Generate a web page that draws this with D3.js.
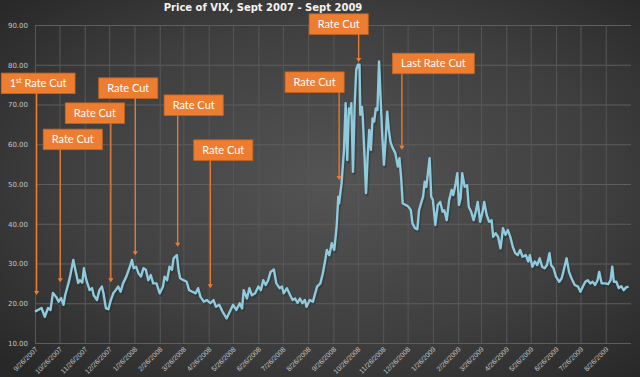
<!DOCTYPE html>
<html><head><meta charset="utf-8">
<script src="https://cdn.jsdelivr.net/npm/d3@7/dist/d3.min.js"></script>
<style>html,body{margin:0;padding:0;background:#2b2b2b;} svg{display:block}</style>
</head><body>
<svg id="chart" width="640" height="377"></svg>
<script>
const chartTitle = "Price of VIX, Sept 2007 - Sept 2009";

const dates = [
"2007-09-26","2007-10-04","2007-10-08","2007-10-12","2007-10-15","2007-10-18","2007-10-22","2007-10-25","2007-10-28","2007-10-31",
"2007-11-02","2007-11-06","2007-11-08","2007-11-12","2007-11-15","2007-11-18","2007-11-20","2007-11-23","2007-11-25","2007-11-28",
"2007-12-02","2007-12-05","2007-12-07","2007-12-11","2007-12-14","2007-12-17","2007-12-19","2007-12-22","2007-12-25","2007-12-28",
"2007-12-31","2008-01-03","2008-01-06","2008-01-09","2008-01-12","2008-01-16","2008-01-21","2008-01-23","2008-01-25","2008-01-28",
"2008-01-31","2008-02-03","2008-02-06","2008-02-09","2008-02-12","2008-02-15","2008-02-18","2008-02-22","2008-02-26","2008-03-01",
"2008-03-03","2008-03-06","2008-03-09","2008-03-12","2008-03-14","2008-03-18","2008-03-20","2008-03-22","2008-03-26","2008-03-30",
"2008-04-02","2008-04-06","2008-04-10","2008-04-13","2008-04-16","2008-04-20","2008-04-24","2008-04-28","2008-05-02","2008-05-05",
"2008-05-09","2008-05-13","2008-05-18","2008-05-22","2008-05-26","2008-05-30","2008-06-03","2008-06-06","2008-06-08","2008-06-12",
"2008-06-15","2008-06-18","2008-06-22","2008-06-26","2008-06-29","2008-07-02","2008-07-05","2008-07-08","2008-07-11","2008-07-15",
"2008-07-18","2008-07-22","2008-07-25","2008-07-27","2008-07-31","2008-08-04","2008-08-07","2008-08-10","2008-08-13","2008-08-16",
"2008-08-19","2008-08-22","2008-08-24","2008-08-28","2008-09-01","2008-09-03","2008-09-06","2008-09-10","2008-09-13","2008-09-16",
"2008-09-18","2008-09-21","2008-09-24","2008-09-27","2008-09-30","2008-10-02","2008-10-03","2008-10-06","2008-10-09","2008-10-11",
"2008-10-13","2008-10-15","2008-10-17","2008-10-18","2008-10-20","2008-10-22","2008-10-24","2008-10-26","2008-10-28","2008-10-29",
"2008-10-31","2008-11-01","2008-11-03","2008-11-05","2008-11-07","2008-11-09","2008-11-11","2008-11-13","2008-11-15","2008-11-17",
"2008-11-19","2008-11-21","2008-11-23","2008-11-25","2008-11-27","2008-11-29","2008-12-01","2008-12-03","2008-12-05","2008-12-07",
"2008-12-11","2008-12-14","2008-12-16","2008-12-18","2008-12-20","2008-12-24","2008-12-27","2008-12-30","2009-01-01","2009-01-04",
"2009-01-07","2009-01-09","2009-01-12","2009-01-14","2009-01-16","2009-01-18","2009-01-22","2009-01-24","2009-01-26","2009-01-29",
"2009-02-01","2009-02-04","2009-02-07","2009-02-09","2009-02-12","2009-02-15","2009-02-18","2009-02-20","2009-02-23","2009-02-25",
"2009-02-27","2009-03-01","2009-03-03","2009-03-06","2009-03-09","2009-03-11","2009-03-14","2009-03-17","2009-03-20","2009-03-22",
"2009-03-25","2009-03-28","2009-03-30","2009-04-02","2009-04-05","2009-04-08","2009-04-10","2009-04-13","2009-04-16","2009-04-19",
"2009-04-22","2009-04-25","2009-04-28","2009-05-01","2009-05-04","2009-05-07","2009-05-10","2009-05-13","2009-05-16","2009-05-20",
"2009-05-23","2009-05-25","2009-05-28","2009-05-31","2009-06-03","2009-06-06","2009-06-09","2009-06-12","2009-06-15","2009-06-18",
"2009-06-20","2009-06-23","2009-06-26","2009-06-30","2009-07-03","2009-07-05","2009-07-09","2009-07-12","2009-07-15","2009-07-19",
"2009-07-23","2009-07-26","2009-07-29","2009-08-01","2009-08-04","2009-08-07","2009-08-10","2009-08-13","2009-08-16","2009-08-18",
"2009-08-21","2009-08-25","2009-08-29","2009-09-01","2009-09-03","2009-09-05","2009-09-08","2009-09-11","2009-09-14","2009-09-17",
"2009-09-20","2009-09-23"
];

const vixValues = [
17.9,18.8,16.6,18.8,18.3,22.6,21.6,20.4,21.3,19.6,
22.0,25.0,26.7,30.9,27.9,25.1,25.8,25.2,28.8,25.8,
23.3,23.8,22.0,20.8,23.3,24.2,22.5,18.7,18.5,20.8,
22.5,23.3,24.2,22.9,25.0,26.7,29.6,30.9,28.8,29.2,
27.5,26.7,28.8,28.4,25.8,27.1,25.0,25.0,22.5,24.2,
26.7,25.8,29.2,28.4,31.3,32.1,28.4,26.3,25.8,25.4,
23.3,22.9,22.5,23.8,21.6,20.4,20.8,20.0,20.8,19.1,
19.6,17.9,16.2,17.9,19.6,18.3,20.0,18.7,23.3,21.2,
23.8,22.0,22.5,24.2,23.3,25.8,24.6,25.8,27.9,28.5,
25.0,23.8,24.2,22.5,23.8,22.0,20.8,21.2,20.1,21.2,
20.0,20.8,19.1,20.8,20.4,22.0,24.2,25.0,27.5,30.9,
33.4,32.1,35.1,33.4,39.3,46.8,45.1,50.2,58.6,70.3,
56.0,69.0,67.8,70.3,53.1,69.4,78.7,80.0,80.0,67.4,
69.4,66.9,57.7,47.7,56.9,63.6,58.6,66.5,65.7,69.0,
68.6,80.8,71.1,61.9,54.8,61.1,68.2,63.6,60.6,59.4,
57.7,54.4,56.5,51.8,45.1,44.7,44.3,43.4,40.1,38.9,
38.6,43.4,45.5,46.8,50.6,49.3,56.5,46.8,46.0,39.7,
44.7,45.5,43.0,43.4,40.9,46.0,48.5,47.2,50.2,52.7,
44.7,46.4,52.7,49.3,49.7,44.3,43.0,40.9,43.4,45.5,
40.5,43.0,45.5,42.2,40.5,40.9,36.7,37.6,36.7,33.8,
38.9,37.2,38.4,36.7,34.2,32.6,32.1,33.4,31.7,32.1,
30.5,32.1,29.2,30.5,29.6,31.3,29.2,28.8,29.6,32.6,
29.6,28.8,26.7,25.4,26.3,27.9,31.3,27.9,26.3,24.6,
24.2,22.9,24.2,25.4,25.8,25.0,25.4,24.6,25.8,27.9,
25.0,25.0,24.8,25.8,29.2,25.4,25.4,23.8,24.3,23.3,
24.0,24.2
];

const yTickValues = [10,20,30,40,50,60,70,80,90];
const xTickDates = [
"2007-09-26","2007-10-26","2007-11-26","2007-12-26","2008-01-26","2008-02-26","2008-03-26","2008-04-26",
"2008-05-26","2008-06-26","2008-07-26","2008-08-26","2008-09-26","2008-10-26","2008-11-26","2008-12-26",
"2009-01-26","2009-02-26","2009-03-26","2009-04-26","2009-05-26","2009-06-26","2009-07-26","2009-08-26"
];

const annotationLabels = ["Rate Cut","Rate Cut","Rate Cut","Rate Cut","Rate Cut","Rate Cut","Rate Cut","Rate Cut","Last Rate Cut"];
const annotationDates = ["2007-09-28","2007-10-27","2007-12-28","2008-01-27","2008-03-19","2008-04-28","2008-10-03","2008-10-27","2008-12-19"];
const annotationTipValues = [22.1,25.3,25.3,32.1,34.2,23.8,51.0,80.7,58.6];
// callout layout: box top (in value units) and horizontal shift of box centre from the arrow (px)
const calloutTopValues = [77.9,63.8,70.4,76.7,72.4,61.1,78.2,92.8,82.9];
const calloutShift = [1.5,12.5,-16,-7,16,13,-24.5,-20,31.5];

const parse = d3.timeParse("%Y-%m-%d");
const series = dates.map((d,i)=>({date:parse(d), v:vixValues[i]}));

const svg = d3.select("#chart");
const W = 640, H = 377;
const L = 35, R = 631, T = 25, B = 343;

const defs = svg.append("defs");
const grad = defs.append("radialGradient").attr("id","bg").attr("cx","52%").attr("cy","48%").attr("r","70%");
grad.append("stop").attr("offset","0%").attr("stop-color","#545454");
grad.append("stop").attr("offset","60%").attr("stop-color","#3f3f3f");
grad.append("stop").attr("offset","100%").attr("stop-color","#282828");
svg.append("rect").attr("width",W).attr("height",H).attr("fill","url(#bg)");

const x = d3.scaleTime().domain([parse("2007-09-26"), parse("2009-09-26")]).range([L, R]);
const y = d3.scaleLinear().domain([10, 90]).range([B, T]);

// y axis with gridlines
const yAxis = svg.append("g").attr("transform",`translate(${L},0)`)
  .call(d3.axisLeft(y).tickValues(yTickValues).tickFormat(d3.format(".2f")).tickSize(-(R-L)).tickPadding(7));
yAxis.select(".domain").remove();
yAxis.selectAll(".tick line").attr("stroke","#5e5e5e").attr("stroke-width",1);
yAxis.selectAll("text").attr("fill","#c4c4c4").style("font-family","DejaVu Sans").style("font-size","7px");

// x axis with gridlines
const xAxis = svg.append("g").attr("transform",`translate(0,${B})`)
  .call(d3.axisBottom(x).tickValues(xTickDates.map(parse)).tickFormat(d3.timeFormat("%-m/%-d/%Y")).tickSize(-(B-T)).tickPadding(0));
xAxis.select(".domain").remove();
xAxis.selectAll(".tick line").attr("stroke","#575757").attr("stroke-width",1);
xAxis.selectAll("text")
  .attr("fill","#c4c4c4").style("font-family","Liberation Sans").style("font-size","7px")
  .attr("text-anchor","end").attr("x",0).attr("y",0).attr("dy","0.35em")
  .attr("transform","translate(1,5) rotate(-45)");

// title
svg.append("text").attr("x",263).attr("y",10.5).attr("text-anchor","middle")
  .attr("fill","#f2f2f2").style("font-family","DejaVu Sans").style("font-weight","bold").style("font-size","10px")
  .text(chartTitle);

// VIX line
const line = d3.line().x(d=>x(d.date)).y(d=>y(d.v)).curve(d3.curveLinear);
svg.append("path").datum(series).attr("d",line).attr("fill","none")
  .attr("stroke","#1a2a30").attr("stroke-opacity",0.35).attr("stroke-width",3.5)
  .attr("transform","translate(1,1.5)").attr("stroke-linejoin","round");
svg.append("path").datum(series).attr("d",line).attr("fill","none")
  .attr("stroke","#8fcadd").attr("stroke-width",2.4).attr("stroke-linejoin","round");

// callouts
const orange = "#ed7d31";
annotationLabels.forEach((lab,i)=>{
  const ax = x(parse(annotationDates[i]));
  const tipY = y(annotationTipValues[i]);
  const top = y(calloutTopValues[i]);
  const h = 20.5;
  const g = svg.append("g");
  const rect = g.append("rect");
  const t = g.append("text").attr("fill","#ffffff").style("font-family","Lato").style("font-size","11px")
    .attr("text-anchor","middle").attr("y", top + h/2).attr("dy","0.36em");
  if (i === 0) {
    t.append("tspan").text("1");
    t.append("tspan").text("st").style("font-size","7px").attr("dy","-4");
    t.append("tspan").text(" " + lab).attr("dy","4");
  } else {
    t.text(lab);
  }
  const cx = ax + calloutShift[i];
  t.attr("x", cx);
  const tw = t.node().getComputedTextLength();
  const bw = tw + 17;
  rect.attr("x", cx - bw/2).attr("y", top).attr("width", bw).attr("height", h)
    .attr("fill", orange).attr("stroke","#c9651f").attr("stroke-width",0.8);
  g.append("line").attr("x1",ax).attr("x2",ax).attr("y1",top+h).attr("y2",tipY-3)
    .attr("stroke",orange).attr("stroke-width",1.3);
  g.append("path").attr("d",`M${ax-2.6},${tipY-4}L${ax+2.6},${tipY-4}L${ax},${tipY}Z`).attr("fill",orange);
});
</script>
</body></html>
